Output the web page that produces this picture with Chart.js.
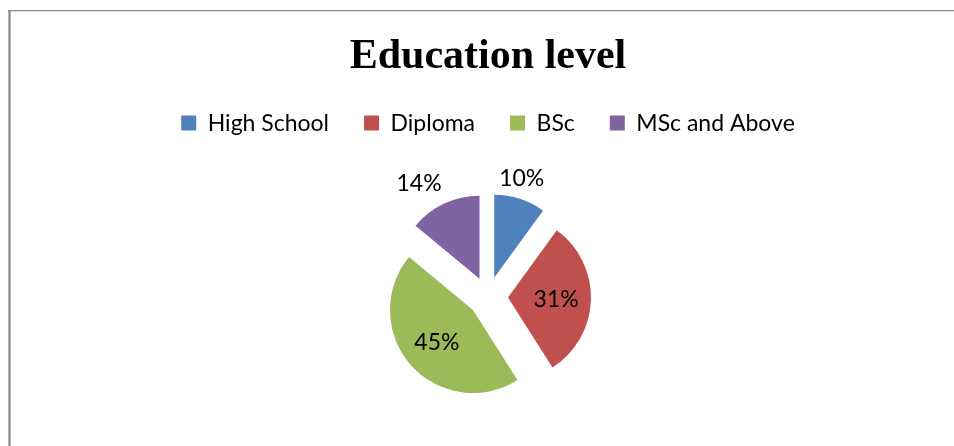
<!DOCTYPE html>
<html>
<head>
<meta charset="utf-8">
<title>Education level</title>
<script src="https://cdn.jsdelivr.net/npm/chart.js@4.4.1/dist/chart.umd.min.js"></script>
<style>
  html, body { margin: 0; padding: 0; background: #ffffff; overflow: hidden; }
  #wrap { position: relative; width: 954px; height: 449px; }
</style>
</head>
<body>
<div id="wrap"><canvas id="chart"></canvas></div>
<script>
// Survey breakdown by education level (percent of respondents)
const categories = ['High School', 'Diploma', 'BSc', 'MSc and Above'];
const shares = [10, 31, 45, 14];
const sliceColors = ['#4F81BD', '#C0504D', '#9BBB59', '#8064A2'];
const chartTitle = 'Education level';

const bodyFont = 'Lato';
const explodeDistance = 20;   // every slice is pulled out from the centre by this many px

// Arc that is drawn shifted outwards along its bisector, radius unchanged
class ExplodedArc extends Chart.ArcElement {
  draw(ctx, area) {
    const mid = (this.startAngle + this.endAngle) / 2;
    ctx.save();
    ctx.translate(Math.cos(mid) * explodeDistance, Math.sin(mid) * explodeDistance);
    super.draw(ctx, area);
    ctx.restore();
  }
}
ExplodedArc.id = 'explodedArc';
ExplodedArc.defaults = Chart.ArcElement.defaults;

class ExplodedPieController extends Chart.PieController {}
ExplodedPieController.id = 'explodedPie';
ExplodedPieController.defaults = Object.assign({}, Chart.PieController.defaults, {
  dataElementType: 'explodedArc'
});
ExplodedPieController.overrides = Chart.PieController.overrides;
Chart.register(ExplodedArc, ExplodedPieController);

// Thin grey frame along the top and left of the chart object
const framePlugin = {
  id: 'frame',
  beforeDraw(chart) {
    const ctx = chart.ctx;
    ctx.save();
    ctx.fillStyle = '#ffffff';
    ctx.fillRect(0, 0, chart.width, chart.height);
    ctx.fillStyle = '#b4b4b4';
    ctx.fillRect(8, 10, 3, chart.height - 10);
    ctx.fillStyle = '#8a8a8a';
    ctx.fillRect(9, 10, 1, chart.height - 10);
    ctx.fillRect(8, 10, chart.width - 8, 1.3);
    ctx.restore();
  }
};

// Percentage labels: small slices get the label outside, large ones inside
const sliceLabelPlugin = {
  id: 'sliceLabels',
  afterDatasetsDraw(chart) {
    const ctx = chart.ctx;
    const meta = chart.getDatasetMeta(0);
    const values = chart.data.datasets[0].data;
    const total = values.reduce((a, b) => a + b, 0);
    ctx.save();
    ctx.fillStyle = '#000000';
    ctx.font = '23px ' + bodyFont;
    meta.data.forEach((arc, i) => {
      const p = arc.getProps(['x', 'y', 'startAngle', 'endAngle', 'outerRadius']);
      const mid = (p.startAngle + p.endAngle) / 2;
      const dx = Math.cos(mid), dy = Math.sin(mid);
      const share = values[i] / total;
      const text = Math.round(share * 100) + '%';
      if (share < 0.2) {
        const d = explodeDistance + p.outerRadius + 6;
        const ax = p.x + dx * d, ay = p.y + dy * d;
        ctx.textAlign = dx < -0.35 ? 'right' : (dx > 0.35 ? 'left' : 'center');
        ctx.textBaseline = 'alphabetic';
        ctx.fillText(text, ax, ay - 7);
      } else {
        const d = explodeDistance + p.outerRadius * 0.58;
        ctx.textAlign = 'center';
        ctx.textBaseline = 'middle';
        ctx.fillText(text, p.x + dx * d, p.y + dy * d + 1);
      }
    });
    ctx.restore();
  }
};

new Chart(document.getElementById('chart'), {
  type: 'explodedPie',
  data: {
    labels: categories,
    datasets: [{
      data: shares,
      backgroundColor: sliceColors,
      borderWidth: 0,
      radius: 83
    }]
  },
  options: {
    responsive: true,
    maintainAspectRatio: false,
    animation: false,
    events: [],
    layout: { padding: { top: 0, bottom: 0, left: 22, right: 0 } },
    plugins: {
      title: {
        display: true,
        text: chartTitle,
        color: '#000000',
        font: { family: 'Liberation Serif', size: 42, weight: 'bold', lineHeight: 0.8 },
        padding: { top: 40, bottom: 3 }
      },
      legend: {
        display: true,
        position: 'top',
        labels: {
          color: '#000000',
          font: { family: bodyFont, size: 23 },
          boxWidth: 15,
          boxHeight: 15,
          padding: 35
        }
      },
      tooltip: { enabled: false }
    }
  },
  plugins: [framePlugin, sliceLabelPlugin]
});
</script>
</body>
</html>
